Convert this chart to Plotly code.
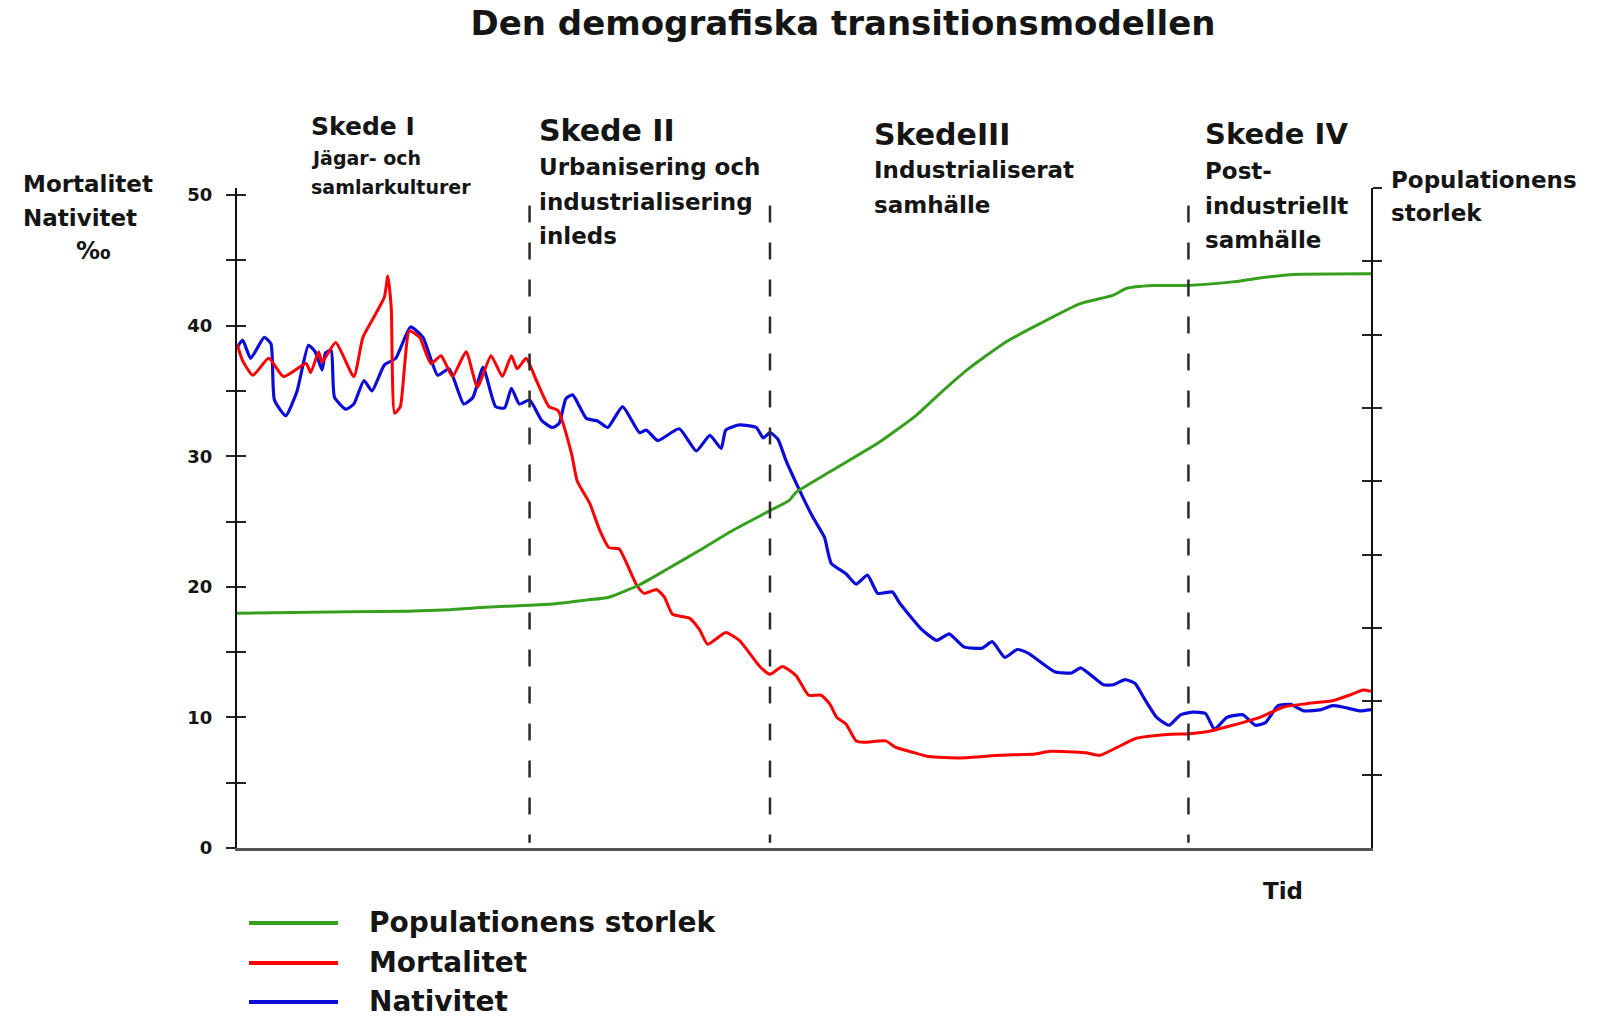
import plotly.graph_objects as go

# ---------------- data ----------------
# time axis is arbitrary: 0 = left axis, 100 = right axis
t_nativitet = [0, 0.5, 1.2, 2.4, 3.0, 3.3, 4.3, 5.3, 6.3, 6.9, 7.5, 7.8, 8.3, 8.6, 9.6, 10.3,
               11.2, 11.9, 13.0, 14.0, 15.3, 16.4, 17.7, 18.7, 20.0, 20.8, 21.7, 22.8, 23.6,
               24.2, 24.9, 25.8, 26.9, 27.8, 28.4, 29.0, 29.6, 30.8, 31.8, 32.7, 34.0, 35.5,
               36.1, 37.1, 39.0, 40.5, 41.7, 42.7, 43.1, 44.3, 45.8, 46.4, 47.0, 47.7, 48.4,
               49.6, 50.8, 51.8, 52.4, 53.7, 54.6, 55.6, 56.5, 57.8, 58.4, 60.3, 61.7, 62.8,
               64.1, 65.7, 66.6, 67.7, 68.8, 69.8, 72.1, 73.6, 74.4, 76.4, 77.3, 78.3, 79.2,
               79.9, 81.1, 82.2, 83.2, 84.3, 85.4, 86.2, 87.3, 88.7, 89.8, 90.7, 91.8, 92.9,
               94.1, 95.6, 96.6, 97.5, 99.0, 100]
nativitet = [38.3, 38.9, 37.5, 39.1, 38.6, 34.3, 33.1, 35.0, 38.5, 38.0, 36.6, 37.9, 38.1, 34.5,
             33.6, 34.0, 35.8, 35.0, 37.0, 37.5, 39.9, 39.1, 36.2, 36.7, 34.0, 34.5, 36.8, 33.8,
             33.7, 35.2, 34.0, 34.3, 32.7, 32.2, 32.5, 34.4, 34.7, 32.9, 32.7, 32.2, 33.8, 31.8,
             32.0, 31.2, 32.1, 30.4, 31.6, 30.6, 32.0, 32.4, 32.2, 31.4, 31.8, 31.3, 29.7, 27.4,
             25.3, 23.8, 21.8, 21.0, 20.2, 20.9, 19.5, 19.6, 18.8, 16.8, 15.9, 16.4, 15.4, 15.3,
             15.8, 14.6, 15.2, 14.9, 13.5, 13.4, 13.8, 12.5, 12.5, 12.9, 12.6, 11.6, 10.0, 9.4,
             10.2, 10.4, 10.3, 9.1, 10.0, 10.2, 9.4, 9.6, 10.9, 11.0, 10.5, 10.6, 10.9, 10.8,
             10.5, 10.6]

t_mortalitet = [0, 0.5, 1.4, 2.8, 4.1, 6.1, 6.5, 7.2, 7.5, 8.7, 10.3, 11.1, 12.1, 13.0, 13.3,
                13.6, 13.9, 14.4, 15.2, 16.1, 17.1, 18.0, 19.0, 20.2, 21.2, 22.4, 23.4, 24.2,
                24.7, 25.5, 26.4, 27.5, 28.3, 29.5, 30.0, 31.1, 32.0, 32.8, 33.7, 35.2, 35.9,
                37.0, 37.7, 38.4, 39.9, 40.8, 41.5, 43.1, 44.3, 46.1, 47.0, 48.1, 49.3, 50.4,
                51.5, 52.3, 52.9, 53.7, 54.6, 55.3, 57.2, 58.1, 59.7, 61.0, 63.8, 67.3, 70.4,
                71.7, 74.8, 76.1, 77.6, 79.3, 82.0, 84.0, 85.5, 87.8, 90.2, 92.3, 94.3, 96.7,
                98.4, 99.3, 100]
mortalitet = [38.6, 37.3, 36.2, 37.5, 36.1, 37.1, 36.4, 38.0, 37.2, 38.7, 36.1, 39.1, 40.7,
              42.2, 43.8, 41.4, 33.3, 33.8, 39.6, 39.1, 37.1, 37.7, 36.1, 38.0, 35.3, 37.7,
              36.1, 37.7, 36.7, 37.5, 35.8, 33.8, 33.5, 30.2, 28.1, 26.4, 24.3, 23.0, 22.9,
              20.2, 19.5, 19.8, 19.2, 17.9, 17.6, 16.7, 15.6, 16.5, 15.9, 13.9, 13.3, 13.9,
              13.2, 11.7, 11.7, 11.0, 10.0, 9.5, 8.2, 8.1, 8.2, 7.7, 7.3, 7.0, 6.9, 7.1, 7.2,
              7.4, 7.3, 7.1, 7.7, 8.4, 8.7, 8.75, 8.9, 9.4, 10.0, 10.8, 11.05, 11.3, 11.8,
              12.1, 12.0]

t_population = [0, 10, 15, 18.8, 21.5, 25.8, 28.1, 30.8, 32.8, 35.5, 37.8, 40.8, 43.7, 47.0,
                48.7, 49.3, 52.5, 56.7, 59.9, 62.0, 64.3, 67.8, 70.8, 74.3, 77.3, 78.4, 80.8,
                83.7, 87.8, 89.6, 93.1, 100]
population = [3.20, 3.22, 3.23, 3.25, 3.28, 3.31, 3.33, 3.38, 3.42, 3.59, 3.79, 4.06, 4.33,
              4.60, 4.74, 4.85, 5.15, 5.54, 5.90, 6.20, 6.51, 6.90, 7.15, 7.42, 7.54, 7.63,
              7.67, 7.67, 7.72, 7.76, 7.82, 7.83]

stage_bounds = [25.8, 47.0, 83.9]

left_tickvals = [0, 5, 10, 15, 20, 25, 30, 35, 40, 45, 50]
left_ticktext = ["0", "", "10", "", "20", "", "30", "", "40", "", "50"]
right_tickvals = [1, 2, 3, 4, 5, 6, 7, 8, 9]

series_names = ["Populationens storlek", "Mortalitet", "Nativitet"]
series_colors = ["#36a01e", "#ff0000", "#0c0cd8"]

title_text = "Den demografiska transitionsmodellen"
stage_titles = ["Skede I", "Skede II", "SkedeIII", "Skede IV"]
stage_texts = [["Jägar- och", "samlarkulturer"],
               ["Urbanisering och", "industrialisering", "inleds"],
               ["Industrialiserat", "samhälle"],
               ["Post-", "industriellt", "samhälle"]]
left_axis_title = ["Mortalitet", "Nativitet", "‰"]
right_axis_title = ["Populationens", "storlek"]
x_axis_title = "Tid"

# ---------------- layout / styling ----------------
W, H = 1607, 1017
L, R, T, B = 237, 1371, 188, 848
FONT = "DejaVu Sans"
TEXT = "#151515"
LEFT_MAX = 50.54
RIGHT_MAX = 9


def px(X):
    return (X - L) / (R - L)


def py(Y):
    return (B - Y) / (B - T)


fig = go.Figure()

fig.add_trace(go.Scatter(x=t_population, y=population, name=series_names[0], yaxis="y2",
                         mode="lines", line=dict(color=series_colors[0], width=3,
                                                 shape="spline", smoothing=0.5)))
fig.add_trace(go.Scatter(x=t_nativitet, y=nativitet, name=series_names[2], mode="lines",
                         line=dict(color=series_colors[2], width=3.2, shape="spline",
                                   smoothing=0.5)))
fig.add_trace(go.Scatter(x=t_mortalitet, y=mortalitet, name=series_names[1], mode="lines",
                         line=dict(color=series_colors[1], width=3, shape="spline",
                                   smoothing=0.5)))
# invisible traces so the overlay tick axes get drawn
fig.add_trace(go.Scatter(x=[None], y=[None], yaxis="y3", showlegend=False, hoverinfo="skip"))
fig.add_trace(go.Scatter(x=[None], y=[None], yaxis="y4", showlegend=False, hoverinfo="skip"))

# dashed stage boundaries
shapes = []
for xb in stage_bounds:
    shapes.append(dict(type="line", xref="x", yref="y", x0=xb, x1=xb, y0=49.2, y1=0.4,
                       line=dict(color="#2a2a2a", width=2.5, dash="17px,20px"), layer="above"))

# custom legend (long line samples as in the reference)
legend_rows = [922, 962, 1001]
annotations = []
for name, color, Y in zip(series_names, series_colors, legend_rows):
    shapes.append(dict(type="line", xref="paper", yref="paper", x0=px(249), x1=px(338),
                       y0=py(Y + 1), y1=py(Y + 1), line=dict(color=color, width=4)))
    annotations.append(dict(text=f"<b>{name}</b>", xref="paper", yref="paper", x=px(367),
                            y=py(Y), xanchor="left", yanchor="middle", showarrow=False,
                            font=dict(family=FONT, size=28, color=TEXT)))


def ann(text, X, Y, size, xanchor="left"):
    annotations.append(dict(text=f"<b>{text}</b>", xref="paper", yref="paper", x=px(X),
                            y=py(Y), xanchor=xanchor, yanchor="middle", showarrow=False,
                            font=dict(family=FONT, size=size, color=TEXT)))


# stage headings
stage_pos = [(309, 127, 25, 19, 158, 28.7),
             (537, 131, 30, 23, 167, 34.5),
             (872, 134, 30, 23, 170, 34.5),
             (1203, 134, 29, 23, 171, 34.5)]
for title, lines, (X, Yt, st, sl, y0, dy) in zip(stage_titles, stage_texts, stage_pos):
    ann(title, X, Yt, st)
    for i, line in enumerate(lines):
        ann(line, X, y0 + i * dy, sl)

# axis titles
ann(left_axis_title[0], 21, 184.5, 23)
ann(left_axis_title[1], 21, 218, 23)
ann(left_axis_title[2], 93, 251, 24, xanchor="center")
ann(right_axis_title[0], 1389, 180, 23)
ann(right_axis_title[1], 1389, 213, 23)
ann(x_axis_title, 1283, 891, 23, xanchor="center")

common = dict(automargin=False, showgrid=False, zeroline=False)

fig.update_layout(
    template="none",
    width=W, height=H, autosize=False,
    margin=dict(l=L, r=W - R, t=T, b=H - B, pad=0, autoexpand=False),
    paper_bgcolor="white", plot_bgcolor="white",
    showlegend=False,
    title=dict(text=f"<b>{title_text}</b>", xref="container", yref="container",
               x=843 / W, y=1 - 23 / H, xanchor="center", yanchor="middle",
               font=dict(family=FONT, size=34, color=TEXT)),
    xaxis=dict(range=[0, 100], showline=True, linecolor="#555555", linewidth=3,
               ticks="", showticklabels=False, **common),
    yaxis=dict(range=[0, LEFT_MAX], showline=True, linecolor="#111111", linewidth=2,
               ticks="outside", ticklen=9, tickwidth=2, tickcolor="#222222",
               tickvals=left_tickvals, ticktext=[f"<b>{t}</b>" for t in left_ticktext],
               tickfont=dict(family=FONT, size=18, color=TEXT), ticklabelstandoff=10,
               **common),
    yaxis3=dict(overlaying="y", side="left", range=[0, LEFT_MAX], ticks="inside",
                ticklen=9, tickwidth=2, tickcolor="#222222", tickvals=left_tickvals,
                showticklabels=False, showline=False, **common),
    yaxis2=dict(overlaying="y", side="right", range=[0, RIGHT_MAX], showline=True,
                linecolor="#111111", linewidth=2, ticks="outside", ticklen=9, tickwidth=2,
                tickcolor="#222222", tickvals=right_tickvals, showticklabels=False,
                **common),
    yaxis4=dict(overlaying="y", side="right", range=[0, RIGHT_MAX], ticks="inside",
                ticklen=9, tickwidth=2, tickcolor="#222222", tickvals=right_tickvals,
                showticklabels=False, showline=False, **common),
    shapes=shapes,
    annotations=annotations,
)

fig.write_html("out.html", config={"displayModeBar": False},
               post_script="document.body.style.margin='0';document.body.style.overflow='hidden';")
